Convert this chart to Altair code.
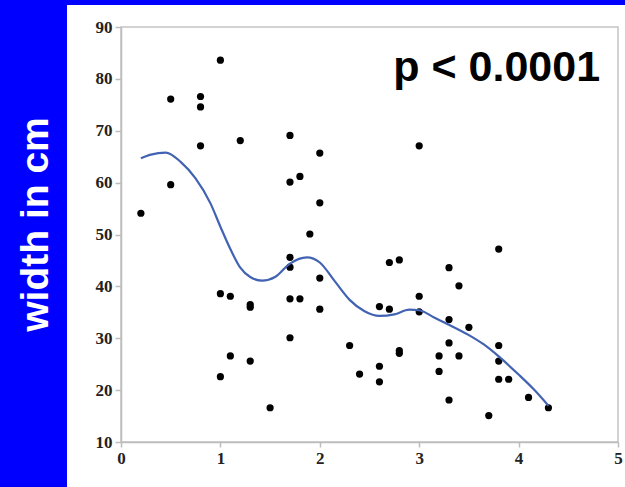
import altair as alt
import pandas as pd

# scatter points (x, width in cm)
x_vals = [0.2, 0.5, 0.5, 0.8, 0.8, 0.8, 1.0, 1.0, 1.0, 1.1, 1.1, 1.2,
          1.3, 1.3, 1.3, 1.5, 1.7, 1.7, 1.7, 1.7, 1.7, 1.7, 1.8, 1.8,
          1.9, 2.0, 2.0, 2.0, 2.0, 2.3, 2.4, 2.6, 2.6, 2.6, 2.7, 2.7,
          2.8, 2.8, 2.8, 3.0, 3.0, 3.0, 3.2, 3.2, 3.3, 3.3, 3.3, 3.3,
          3.4, 3.4, 3.5, 3.7, 3.8, 3.8, 3.8, 3.8, 3.9, 4.1, 4.3]
y_vals = [54.1, 76.1, 59.6, 76.6, 74.6, 67.1, 83.6, 38.6, 22.6, 38.1, 26.6, 68.1,
          36.5, 36.0, 25.6, 16.6, 69.1, 60.1, 45.6, 43.7, 37.6, 30.1, 61.2, 37.6,
          50.1, 65.7, 56.1, 41.6, 35.6, 28.6, 23.1, 36.1, 24.6, 21.6, 44.6, 35.6,
          45.1, 27.6, 27.1, 67.1, 38.1, 35.1, 26.6, 23.6, 43.6, 33.6, 29.1, 18.1,
          40.1, 26.6, 32.1, 15.1, 47.2, 28.6, 25.6, 22.1, 22.1, 18.6, 16.6]

# smoothed fit curve
curve_x = [0.2, 0.3, 0.45, 0.6, 0.75, 0.9, 1.0, 1.1, 1.2, 1.3, 1.42, 1.55,
           1.7, 1.87, 2.0, 2.15, 2.3, 2.45, 2.6, 2.75, 2.9, 3.0, 3.15, 3.3,
           3.5, 3.65, 3.8, 4.0, 4.15, 4.3]
curve_y = [64.7, 65.4, 65.8, 64.0, 60.8, 56.0, 51.5, 47.2, 43.6, 41.8, 41.1, 41.8,
           44.4, 45.6, 44.6, 41.0, 37.4, 35.2, 34.3, 34.6, 35.5, 35.4, 34.0, 32.6,
           30.6, 28.8, 26.5, 23.0, 20.2, 17.0]

x_ticks = [0, 1, 2, 3, 4, 5]
y_ticks = [10, 20, 30, 40, 50, 60, 70, 80, 90]
annotation = "p < 0.0001"

W, H = 497, 415

pts = pd.DataFrame({"x": x_vals, "y": y_vals})
crv = pd.DataFrame({"x": curve_x, "y": curve_y})
one = pd.DataFrame({"a": [0]})

xscale = alt.Scale(domain=[0, 5], nice=False, zero=False)
yscale = alt.Scale(domain=[10, 90], nice=False, zero=False)

bg = alt.Chart(one).mark_rect(color="white", clip=False).encode(
    x=alt.value(-54), x2=alt.value(W + 10), y=alt.value(-22), y2=alt.value(H + 50)
)
frame = alt.Chart(one).mark_rect(fillOpacity=0, stroke="#c4c4c4", strokeWidth=1.5).encode(
    x=alt.value(0), x2=alt.value(W), y=alt.value(0), y2=alt.value(H)
)

points = alt.Chart(pts).mark_circle(size=52, color="black", opacity=1).encode(
    x=alt.X("x:Q", scale=xscale,
            axis=alt.Axis(title=None, values=x_ticks, format="d", labelFlush=False,
                          labelPadding=3, tickSize=5, zindex=2)),
    y=alt.Y("y:Q", scale=yscale,
            axis=alt.Axis(title="width in cm", values=y_ticks, format="d", labelFlush=False,
                          tickSize=6, labelPadding=3, zindex=2,
                          titleColor="white", titleFont="Liberation Sans",
                          titleFontWeight="bold", titleFontSize=39,
                          titleX=-86, titleY=197, titleAngle=-90,
                          titleAlign="center", titleBaseline="middle")),
)

curve = alt.Chart(crv).mark_line(color="#4263b3", strokeWidth=2.2, interpolate="monotone").encode(
    x=alt.X("x:Q", scale=xscale), y=alt.Y("y:Q", scale=yscale)
)

label = alt.Chart(one).mark_text(
    text=annotation, align="right", baseline="alphabetic",
    font="Liberation Sans", fontWeight="bold", fontSize=43, color="black"
).encode(x=alt.datum(4.82, scale=xscale), y=alt.datum(79.6, scale=yscale))

chart = alt.layer(bg, frame, points, curve, label).properties(
    width=W, height=H,
    autosize="none",
    padding={"left": 121, "top": 27, "right": 7, "bottom": 45},
    background="#0000ff",
).configure_view(stroke=None).configure_axis(
    domainColor="#bdbdbd", tickColor="#bdbdbd", domainWidth=1.5, tickWidth=1.5,
    labelFont="Liberation Serif", labelFontWeight="bold", labelFontSize=17,
    labelColor="#222222", grid=False
)

chart.save("out.html", embed_options={"renderer": "svg", "actions": False})
